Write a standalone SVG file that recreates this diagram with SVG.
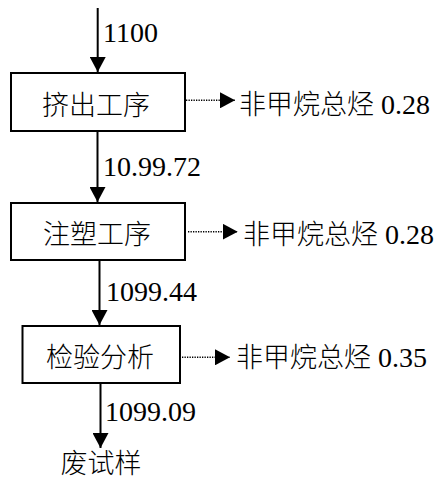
<svg xmlns="http://www.w3.org/2000/svg" width="438" height="480" viewBox="0 0 438 480">
<style>
.box{fill:#fff;stroke:#000;stroke-width:2}
.t{font-family:"Liberation Serif","Noto Sans CJK SC",serif;font-size:28px;fill:#000}
.t tspan{font-family:"Noto Sans CJK SC",sans-serif;font-size:27px;font-weight:300}
.c{font-family:"Noto Sans CJK SC",sans-serif;font-size:27px;font-weight:300;fill:#000;text-anchor:middle}
.flow{stroke:#000;stroke-width:2;fill:none;marker-end:url(#ah)}
.dot{stroke:#000;stroke-width:1.5;stroke-dasharray:1.3 1.2;fill:none;marker-end:url(#ah)}
</style>
<defs>
<marker id="ah" markerUnits="userSpaceOnUse" markerWidth="15" markerHeight="16" refX="15" refY="8" orient="auto">
<path d="M0,0 L15,8 L0,16 z" fill="#000"/>
</marker>
</defs>
<g id="connectors">
<line class="flow" x1="97.7" y1="8" x2="97.7" y2="72"/>
<line class="flow" x1="97.5" y1="131" x2="97.5" y2="202"/>
<line class="flow" x1="99.5" y1="261" x2="99.5" y2="325"/>
<line class="flow" x1="100.5" y1="384" x2="100.5" y2="448"/>
<line class="dot" x1="186" y1="100.3" x2="235" y2="100.3"/>
<line class="dot" x1="188" y1="231.7" x2="237.7" y2="231.7"/>
<line class="dot" x1="182" y1="357.3" x2="230" y2="357.3"/>
<text class="t" x="103" y="42">1100</text>
<text class="t" x="103" y="176">10.99.72</text>
<text class="t" x="106" y="301">1099.44</text>
<text class="t" x="105" y="421">1099.09</text>
</g>
<g id="n1">
<rect class="box" x="11" y="73" width="174" height="58"/>
<text class="c" x="96" y="115">挤出工序</text>
</g>
<g id="e1"><text class="t" x="239" y="114"><tspan>非甲烷总烃</tspan> 0.28</text></g>
<g id="n2">
<rect class="box" x="11" y="203" width="174" height="57"/>
<text class="c" x="97" y="243.5">注塑工序</text>
</g>
<g id="e2"><text class="t" x="243" y="243.5"><tspan>非甲烷总烃</tspan> 0.28</text></g>
<g id="n3">
<rect class="box" x="22.5" y="326" width="157.5" height="57"/>
<text class="c" x="100" y="366.5">检验分析</text>
</g>
<g id="e3"><text class="t" x="236" y="366.5"><tspan>非甲烷总烃</tspan> 0.35</text></g>
<g id="n4"><text class="c" x="101" y="473">废试样</text></g>
</svg>
